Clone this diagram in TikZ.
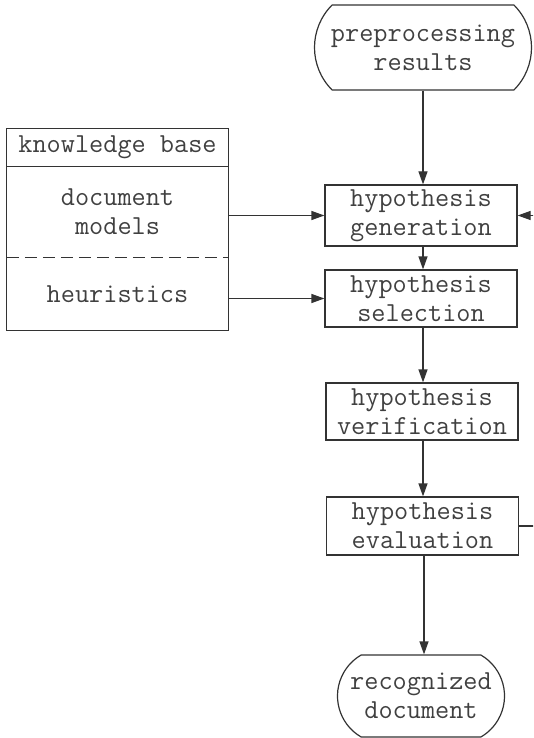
\documentclass[tikz,border=0pt]{standalone}
\usepackage{fontspec}
\usetikzlibrary{arrows.meta}
\usetikzlibrary{shapes.misc}

\tikzset{
  every node/.style={font=\ttfamily\fontsize{27.5}{29}\selectfont, text=black!75},
  stage/.style={draw=black!80, line width=1.2pt, minimum width=192pt, minimum height=58pt, align=center, inner sep=0pt},
  ends/.style={draw=black!80, line width=1.2pt, rounded rectangle, rounded rectangle arc length=90, align=center, inner sep=0pt},
  kbpart/.style={minimum width=221pt, align=center, inner sep=0pt},
  flow/.style={draw=black!80, line width=1.2pt, -{Triangle[length=13pt,width=9pt]}}
}

\begin{document}
\begin{tikzpicture}[x=1pt, y=-1pt]
  \useasboundingbox (0,0) rectangle (533,738);
  \clip (0,0) rectangle (533,738);

  % main chain
  \node[ends, minimum width=217pt, minimum height=85pt] (pre) at (423,47.5) {preprocessing\\results};
  \node[stage, minimum height=61pt] (gen) at (421,215.5) {hypothesis\\generation};
  \node[stage, minimum height=57pt] (sel) at (421,298.5) {hypothesis\\selection};
  \node[stage, minimum height=57pt] (ver) at (422,411.5) {hypothesis\\verification};
  \node[stage] (eval) at (422.5,526) {hypothesis\\evaluation};
  \node[ends, rounded rectangle arc length=120, minimum width=167pt, minimum height=82pt] (rec) at (421,696) {recognized\\document};

  % knowledge base
  \node[kbpart, minimum height=37pt] (kb) at (117.5,147.5) {knowledge base};
  \node[kbpart, minimum height=92pt] (models) at (117.5,212) {document\\models};
  \node[kbpart, minimum height=72pt] (heur) at (117.5,294) {heuristics};
  \draw[black!80, line width=1.2pt] (kb.north west) rectangle (heur.south east);
  \draw[black!80, line width=1.2pt] (kb.south west) -- (kb.south east);
  \draw[black!80, line width=1.2pt, dash pattern=on 12pt off 6pt] (heur.north west) -- (heur.north east);

  % connectors
  \draw[flow] (pre.south) -- (pre.south |- gen.north);
  \draw[flow] (gen.south -| 423,0) -- (sel.north -| 423,0);
  \draw[flow] (sel.south -| 423,0) -- (ver.north -| 423,0);
  \draw[flow] (ver.south -| 423,0) -- (eval.north -| 423,0);
  \draw[flow] (eval.south -| 424,0) -- (rec.north -| 424,0);
  \draw[flow] (models.east |- gen.west) -- (gen.west);
  \draw[flow] (heur.east |- sel.west) -- (sel.west);

  % feedback loop, runs off the right edge
  \coordinate (fb) at (538,526);
  \draw[flow] (eval.east) -- (fb) -- (fb |- gen.east) -- (gen.east);
\end{tikzpicture}
\end{document}
